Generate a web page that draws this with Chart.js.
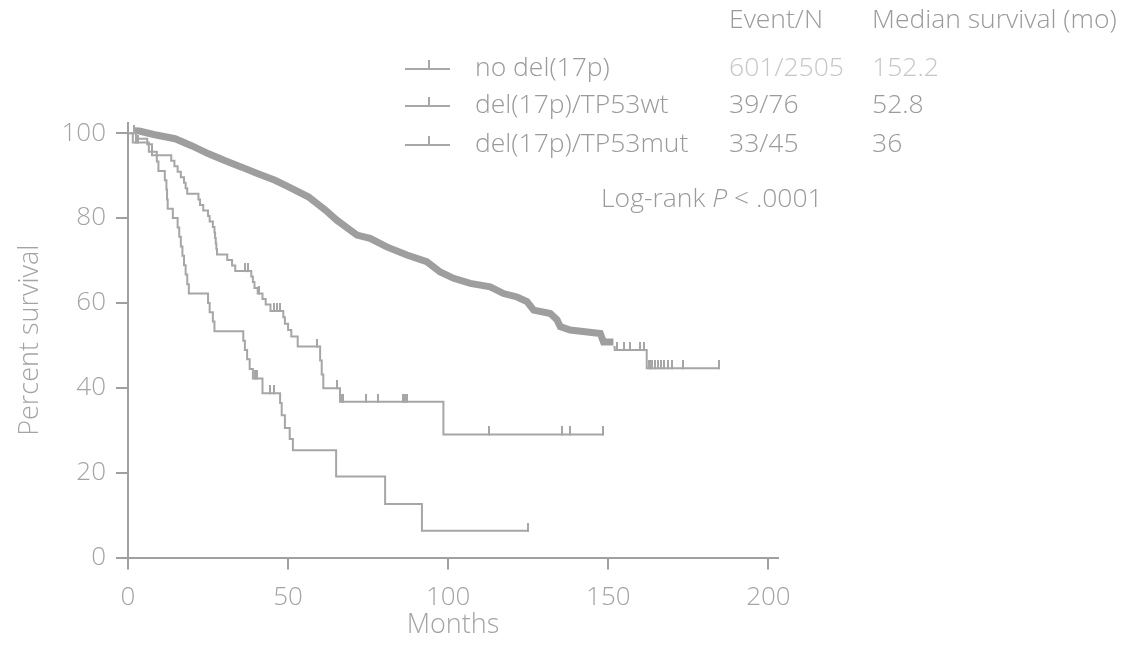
<!DOCTYPE html>
<html>
<head>
<meta charset="utf-8">
<script src="https://cdn.jsdelivr.net/npm/chart.js@4.4.1/dist/chart.umd.min.js"></script>
<style>
  html, body { margin: 0; padding: 0; background: #fff; }
  #wrap { position: relative; width: 1122px; height: 656px; font-family: "Open Sans", sans-serif; font-weight: 300; color: #9a9a9a; }
  #wrap canvas { position: absolute; left: 0; top: 0; }
  .t { position: absolute; white-space: nowrap; font-size: 26.5px; line-height: 30px; }
  .light { color: #c6c6c6; }
  .sym { position: absolute; width: 45px; height: 2px; background: #a8a8a8; }
  .sym::after { content: ""; position: absolute; left: 23px; top: -8px; width: 2px; height: 8px; background: #a8a8a8; }
</style>
</head>
<body>
<div id="wrap">
  <canvas id="kmGrafik" width="1122" height="656"></canvas>
  <div class="t" style="left:729px;top:3px">Event/N</div>
  <div class="t" style="left:872px;top:3px">Median survival (mo)</div>

  <div class="sym" style="left:405px;top:68px"></div>
  <div class="t" style="left:475px;top:51px">no del(17p)</div>
  <div class="t light" style="left:729px;top:51px">601/2505</div>
  <div class="t light" style="left:872px;top:51px">152.2</div>

  <div class="sym" style="left:405px;top:105px"></div>
  <div class="t" style="left:475px;top:88px">del(17p)/TP53wt</div>
  <div class="t" style="left:729px;top:88px">39/76</div>
  <div class="t" style="left:872px;top:88px">52.8</div>

  <div class="sym" style="left:405px;top:144px"></div>
  <div class="t" style="left:475px;top:127px">del(17p)/TP53mut</div>
  <div class="t" style="left:729px;top:127px">33/45</div>
  <div class="t" style="left:872px;top:127px">36</div>

  <div class="t" style="left:601px;top:182px">Log-rank <i>P</i> &lt; .0001</div>
</div>

<script>
// eksen etiketleri
const xTicks = [0, 50, 100, 150, 200];
const yTicks = [0, 20, 40, 60, 80, 100];

// no del(17p): yoğun sansür işaretleri nedeniyle kalın bant
const noDelBand = [[2, 100.6], [3.5, 100.5], [8, 99.7], [14.7, 98.7], [20, 97], [25, 95.2], [30, 93.6],
  [35.5, 92], [40, 90.6], [45.9, 88.9], [50, 87.4], [56.3, 85], [61.6, 81.9], [65.2, 79.5], [71.5, 76],
  [75.6, 75.2], [80.8, 73.2], [87.1, 71.3], [93.3, 69.7], [97.5, 67.3], [101.7, 65.8], [106.9, 64.6],
  [113.1, 63.8], [117.3, 62.2], [121.5, 61.4], [124.6, 60.3], [126.7, 58.3], [131.9, 57.5], [134, 56],
  [135, 54.4], [138.1, 53.6], [147.5, 52.8], [148.5, 50.8], [151.6, 50.8]];
const noDelTail = [[151.6, 49.6], [152, 48.9], [162, 44.6], [184.5, 44.6]];
const noDelCens = [[152.7, 48.9], [154.8, 48.9], [156.9, 48.9], [160, 48.9], [161, 48.9], [162.6, 44.6],
  [163.2, 44.6], [163.8, 44.6], [164.6, 44.6], [165.5, 44.6], [166.5, 44.6], [167.5, 44.6], [168.5, 44.6],
  [169.8, 44.6], [173.3, 44.6], [184.5, 44.6]];

// del(17p)/TP53wt
const tp53wt = [[0, 100], [2.5, 98.7], [6, 97.4], [7.5, 94.8], [13.5, 93.5], [14.5, 92.2], [15.5, 90.9],
  [16.5, 89.6], [17.5, 88.3], [18, 87], [18.5, 85.7], [22, 84.4], [22.5, 83.1], [23.5, 81.8], [25, 80.5],
  [25.5, 79.2], [26.5, 77.9], [27, 76.6], [27.2, 75.3], [27.4, 74], [27.6, 72.7], [27.8, 71.4], [31, 70.1],
  [32.5, 68.8], [33.5, 67.5], [38.5, 66.2], [39, 64.9], [39.5, 63.5], [40.5, 62.2], [42, 60.9], [43, 59.6],
  [44.5, 58.1], [48.5, 56.6], [49, 55.1], [50, 53.6], [51, 52.1], [53, 49.7], [60, 46.4], [60.5, 43.1],
  [61, 39.9], [66.2, 36.7], [98.5, 29], [148.5, 29]];
const tp53wtCens = [[1.8, 100], [36.5, 67.5], [37.5, 67.5], [41, 62.2], [45.5, 58.1], [46.5, 58.1],
  [47.5, 58.1], [59, 49.7], [65.2, 39.9], [66.9, 36.7], [67.3, 36.7], [74.4, 36.7], [78.2, 36.7], [86, 36.7],
  [86.5, 36.7], [87, 36.7], [112.6, 29], [135.5, 29], [138.1, 29], [148.5, 29]];

// del(17p)/TP53mut
const tp53mut = [[0, 100], [1.5, 97.8], [6.5, 95.6], [9, 93.3], [9.5, 91.1], [11.5, 88.9], [12, 86.7],
  [12.2, 84.4], [12.4, 82.2], [14, 80], [15.5, 77.8], [16, 75.6], [16.5, 73.3], [17, 71.1], [17.5, 68.9],
  [18, 66.7], [18.5, 64.4], [19, 62.2], [25, 60], [25.5, 57.8], [26.5, 55.6], [27, 53.3], [36, 51.1],
  [36.5, 48.9], [37.2, 46.7], [38, 44.4], [39, 42.2], [42, 38.7], [47.5, 36.4], [48, 33.5], [49, 30.5],
  [50.5, 27.9], [51.5, 25.3], [65, 19.1], [80.3, 12.6], [91.8, 6.3], [125, 6.3]];
const tp53mutCens = [[2.5, 97.8], [3.2, 97.8], [39.8, 42.2], [40.3, 42.2], [44.5, 38.7], [45.5, 38.7], [125, 6.3]];

const CIZGI = "#a6a6a6";
const EKSEN = "#a0a0a0";
const YAZI = "#a4a4a4";
const TICK_FONT = { family: "'Open Sans', sans-serif", size: 26, weight: 300 };
const TITLE_FONT = { family: "'Open Sans', sans-serif", size: 27, weight: 300 };

// sansür işareti: çizginin üstüne doğru kısa dikey çentik
function centik(h) {
  const c = document.createElement("canvas");
  c.width = 2; c.height = h * 2;
  const g = c.getContext("2d");
  g.fillStyle = CIZGI;
  g.fillRect(0, 0, 2, h + 1);
  return c;
}
const isaret = centik(8);

const xy = arr => arr.map(p => ({ x: p[0], y: p[1] }));

function egri(data, width, color, stepped) {
  return { data: xy(data), showLine: true, stepped: stepped, borderColor: color, borderWidth: width,
    pointRadius: 0, fill: false, borderCapStyle: "butt", borderJoinStyle: "miter" };
}
function sansur(data) {
  return { data: xy(data), showLine: false, pointStyle: isaret, pointRadius: 4 };
}

new Chart(document.getElementById("kmGrafik"), {
  type: "scatter",
  data: {
    datasets: [
      egri(tp53mut, 2, CIZGI, true), sansur(tp53mutCens),
      egri(tp53wt, 2, CIZGI, true), sansur(tp53wtCens),
      egri(noDelBand, 7, "#9e9e9e", false),
      egri(noDelTail, 2, CIZGI, true), sansur(noDelCens)
    ]
  },
  options: {
    responsive: false,
    animation: false,
    devicePixelRatio: 1,
    layout: { padding: { top: 123, right: 344, left: 0, bottom: 0 } },
    plugins: { legend: { display: false }, tooltip: { enabled: false } },
    scales: {
      x: {
        type: "linear", min: 0, max: 203,
        afterBuildTicks: s => { s.ticks = xTicks.map(v => ({ value: v })); },
        afterFit: s => { s.height = 98.5; },
        ticks: { font: TICK_FONT, color: YAZI, padding: 12, maxRotation: 0, autoSkip: false },
        grid: { display: true, drawOnChartArea: false, drawTicks: true, tickLength: 12, color: EKSEN, lineWidth: 2 },
        border: { display: true, color: EKSEN, width: 2 },
        title: { display: true, text: "Months", font: TITLE_FONT, color: YAZI, padding: { top: 0, bottom: 14 } }
      },
      y: {
        type: "linear", min: 0, max: 102.4,
        afterBuildTicks: s => { s.ticks = yTicks.map(v => ({ value: v })); },
        afterFit: s => { s.width = 128; },
        ticks: { font: TICK_FONT, color: YAZI, padding: 10, autoSkip: false },
        grid: { display: true, drawOnChartArea: false, drawTicks: true, tickLength: 12, color: EKSEN, lineWidth: 2 },
        border: { display: true, color: EKSEN, width: 2 },
        title: { display: true, text: "Percent survival", font: TITLE_FONT, color: YAZI, padding: { top: 14, bottom: 0 } }
      }
    }
  }
});
</script>
</body>
</html>
